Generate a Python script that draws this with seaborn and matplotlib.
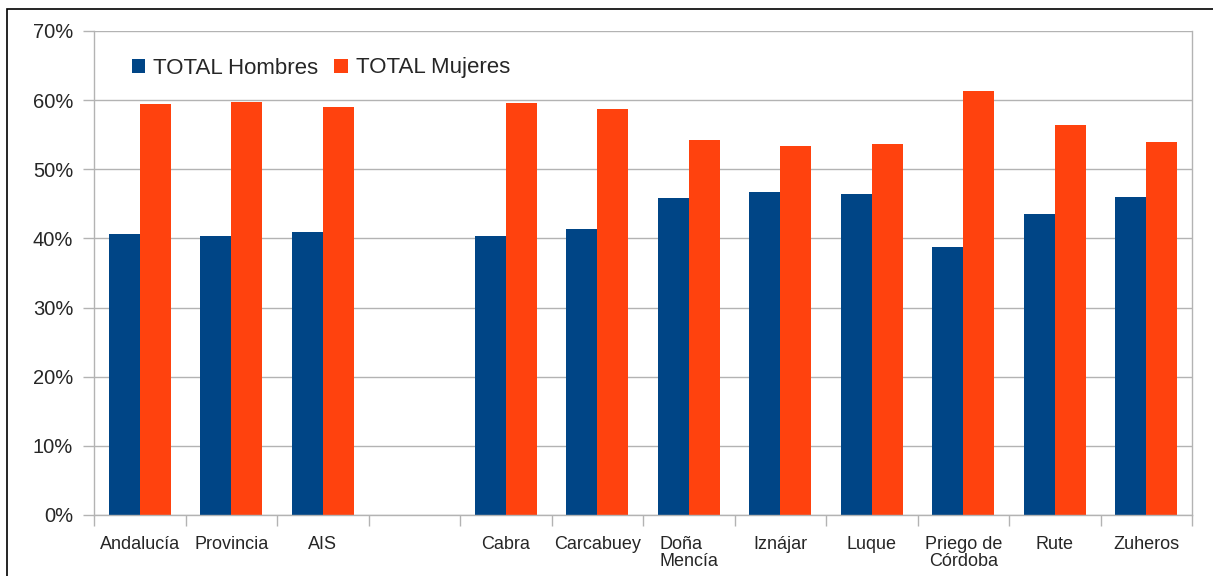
import numpy as np
import pandas as pd
import matplotlib
matplotlib.use("Agg")
import matplotlib.pyplot as plt
import seaborn as sns
from matplotlib.patches import Rectangle
from matplotlib.ticker import FixedLocator, FuncFormatter

sns.set_theme(style="white")
plt.rcParams["font.family"] = ["Liberation Sans", "DejaVu Sans"]

# datos (% sobre el total)
categorias = ["Andalucía", "Provincia", "AIS", "", "Cabra", "Carcabuey",
              "Doña Mencía", "Iznájar", "Luque", "Priego de Córdoba", "Rute", "Zuheros"]
etiquetas = ["Andalucía", "Provincia", "AIS", "", "Cabra", "Carcabuey",
             "Doña\nMencía", "Iznájar", "Luque", "Priego de\nCórdoba", "Rute", "Zuheros"]
hombres = [40.6, 40.3, 41.0, np.nan, 40.4, 41.3, 45.8, 46.7, 46.4, 38.7, 43.6, 46.0]
mujeres = [59.4, 59.7, 59.0, np.nan, 59.6, 58.7, 54.2, 53.3, 53.6, 61.3, 56.4, 54.0]
series = ["TOTAL Hombres", "TOTAL Mujeres"]
COLORES = {"TOTAL Hombres": "#004586", "TOTAL Mujeres": "#FF420E"}

df = pd.DataFrame({"zona": categorias, series[0]: hombres, series[1]: mujeres})
largo = df.melt(id_vars="zona", var_name="serie", value_name="pct").dropna()

W, H = 1213, 576
fig = plt.figure(figsize=(W / 100, H / 100), dpi=100)
ax = fig.add_axes([94 / W, 1 - 515 / H, (1192 - 94) / W, (515 - 31) / H])

sns.barplot(data=largo, x="zona", y="pct", hue="serie", order=categorias,
            hue_order=series, palette=COLORES, width=0.68, gap=0,
            saturation=1, errorbar=None, linewidth=0, ax=ax)

ax.set_xlim(-0.5, len(categorias) - 0.5)
ax.set_ylim(0, 70)
ax.set_yticks(range(0, 71, 10))
ax.yaxis.set_major_formatter(FuncFormatter(lambda v, _: f"{v:.0f}%"))
ax.yaxis.grid(True, color="#b3b3b3", lw=1)
ax.set_axisbelow(True)

ax.set_xticks(range(len(categorias)))
ax.set_xticklabels(etiquetas, fontsize=13, linespacing=1.0)
for t in ax.get_xticklabels():
    if t.get_text().startswith("Doña"):
        t.set_multialignment("left")
ax.xaxis.set_minor_locator(FixedLocator(np.arange(-0.5, len(categorias), 1)))
ax.tick_params(axis="x", which="major", length=0, pad=15)
ax.tick_params(axis="x", which="minor", length=7.7, color="#b3b3b3", width=1, bottom=True)
ax.tick_params(axis="y", length=8, color="#b3b3b3", width=1, labelsize=14.5, left=True, pad=7)
ax.set_xlabel("")
ax.set_ylabel("")

for lado in ["left", "right", "bottom", "top"]:
    ax.spines[lado].set_color("#b3b3b3")
    ax.spines[lado].set_linewidth(1)
ax.spines["top"].set_visible(False)

ax.legend(loc="center left", bbox_to_anchor=(38 / 1098, 1 - 37 / 484), ncol=2, frameon=False,
          fontsize=16, handlelength=0.59, handleheight=0.59, handletextpad=0.37,
          columnspacing=0.72, borderaxespad=0, borderpad=0)

# marco exterior
fig.patches.append(Rectangle((7 / W, -0.01), 1.0, 1 - 9 / H + 0.01,
                             transform=fig.transFigure, fill=False,
                             edgecolor="black", lw=1.2))

fig.savefig("out.png", dpi=100)
